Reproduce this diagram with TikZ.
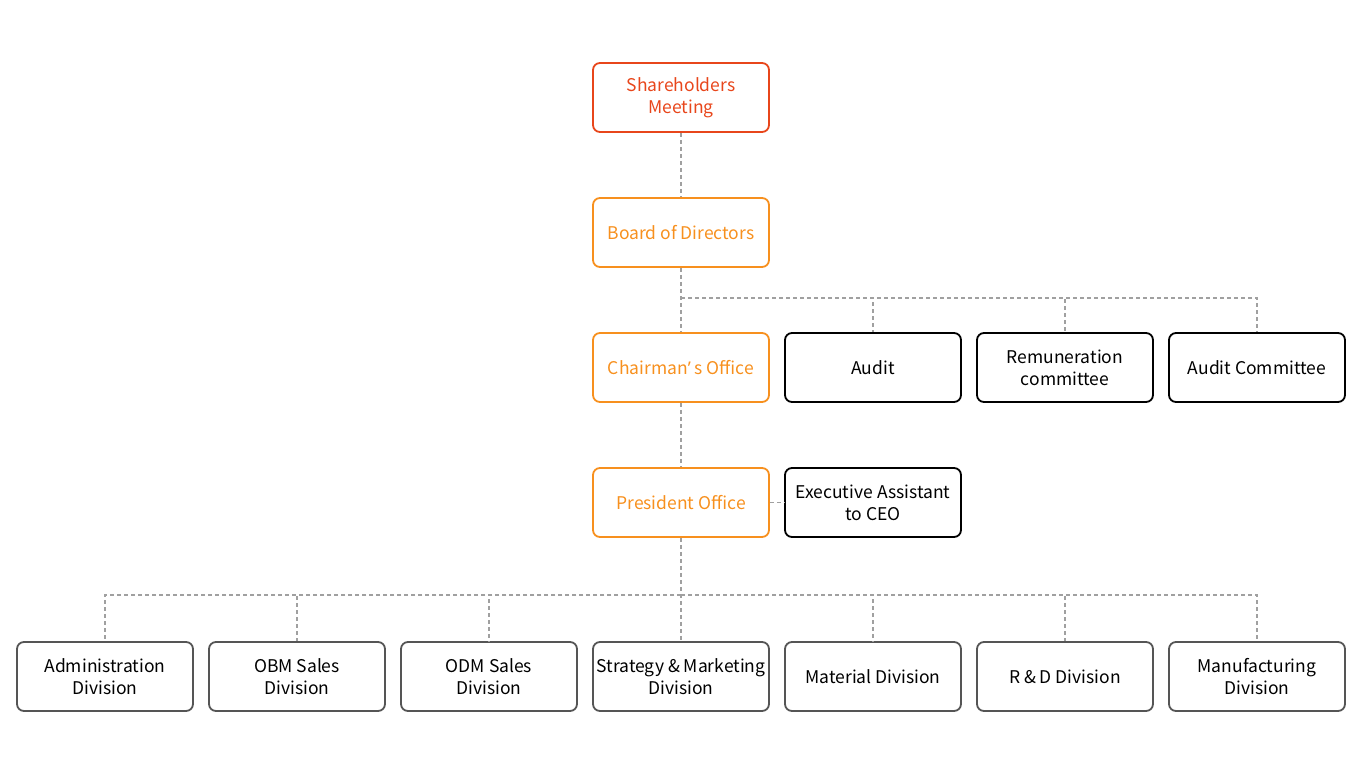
\documentclass[tikz,border=0pt]{standalone}
\usepackage{fontspec}
\setmainfont{Noto Sans CJK SC}
\newfontfamily\latfont{Noto Sans}
\definecolor{redo}{HTML}{E8461B}
\definecolor{orng}{HTML}{F7901E}
\definecolor{dgray}{HTML}{555555}
\definecolor{lgray}{HTML}{A0A0A0}
\begin{document}
\begin{tikzpicture}[x=1pt,y=-1pt,
  box/.style={draw, rounded corners=7pt, line width=1.8pt, minimum width=176pt, minimum height=69pt, align=center, font=\fontsize{17.5}{22}\selectfont, inner sep=1pt},
  redbox/.style={box, draw=redo, text=redo},
  orbox/.style={box, draw=orng, text=orng},
  blkbox/.style={box, draw=black, text=black},
  grbox/.style={box, draw=dgray, text=black},
  conn/.style={draw=lgray, line width=1.5pt, dash pattern=on 4pt off 3pt}]
\useasboundingbox (0,0) rectangle (1366,768);
\node[redbox] (sh) at (681,97.5) {Shareholders\\Meeting};
\node[orbox] (bd) at (681,232.5) {Board of Directors};
\node[orbox] (ch) at (681,367.5) {Chairman{\latfont ’} s Office};
\node[blkbox] (au) at (873,367.5) {Audit};
\node[blkbox] (rc) at (1065,367.5) {Remuneration\\committee};
\node[blkbox] (ac) at (1257,367.5) {Audit Committee};
\node[orbox] (pr) at (681,502.5) {President Office};
\node[blkbox] (ex) at (873,502.5) {Executive Assistant\\to CEO};
\node[grbox] (d1) at (105,676.5) {Administration\\Division};
\node[grbox] (d2) at (297,676.5) {OBM Sales\\Division};
\node[grbox] (d3) at (489,676.5) {ODM Sales\\Division};
\node[grbox] (d4) at (681,676.5) {Strategy \& Marketing\\Division};
\node[grbox] (d5) at (873,676.5) {Material Division};
\node[grbox] (d6) at (1065,676.5) {R \& D Division};
\node[grbox] (d7) at (1257,676.5) {Manufacturing\\Division};
\coordinate (j1) at (681,298);
\coordinate (j2) at (681,595);
\draw[conn] (sh.south) -- (bd.north);
\draw[conn] (bd.south) -- (ch.north);
\draw[conn] (j1) -| (ac.north);
\draw[conn] (j1) -| (au.north);
\draw[conn] (j1) -| (rc.north);
\draw[conn] (ch.south) -- (pr.north);
\draw[conn] (pr.east) -- (ex.west);
\draw[conn] (pr.south) -- (d4.north);
\foreach \d in {d1,d2,d3,d5,d6,d7} \draw[conn] (j2) -| (\d.north);
\end{tikzpicture}
\end{document}
